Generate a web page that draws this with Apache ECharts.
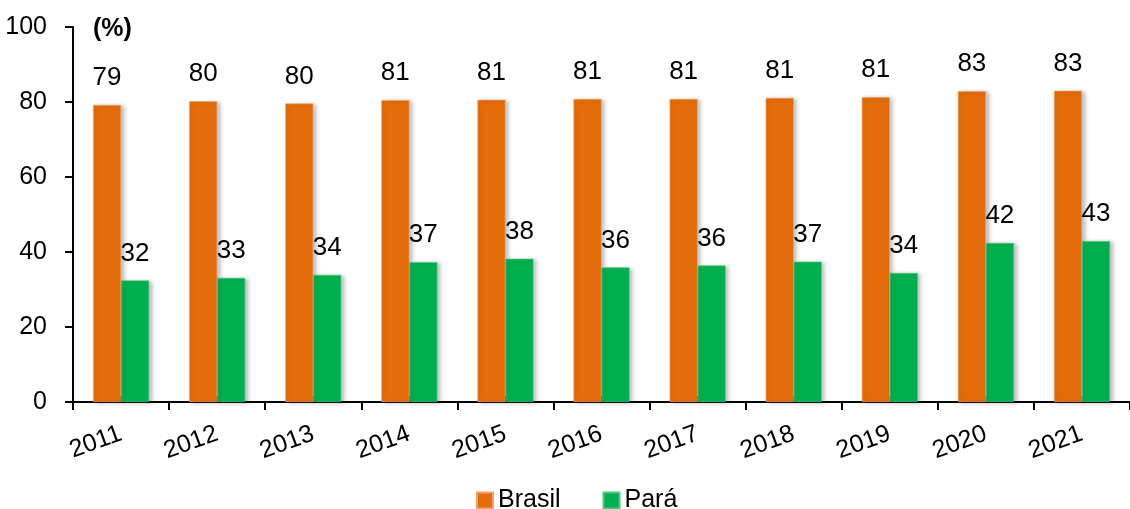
<!DOCTYPE html>
<html>
<head>
<meta charset="utf-8">
<script src="https://cdn.jsdelivr.net/npm/echarts@6/dist/echarts.min.js"></script>
<style>
html,body{margin:0;padding:0;background:#fff;}
#chart{width:1130px;height:509px;}
</style>
</head>
<body>
<div id="chart"></div>
<script>
var categories = ['2011','2012','2013','2014','2015','2016','2017','2018','2019','2020','2021'];
var brasil = [79.2, 80.2, 79.6, 80.5, 80.6, 80.8, 80.8, 81.1, 81.3, 82.9, 83.0];
var para = [32.4, 33.1, 33.9, 37.3, 38.2, 35.9, 36.4, 37.4, 34.4, 42.4, 42.9];
var seriesNames = ['Brasil', 'Pará'];
var yTicks = {min: 0, max: 100, interval: 20};
var unitLabel = '(%)';

var FONT = "'Liberation Sans Narrow', 'Arial Narrow', 'Liberation Sans', Arial, sans-serif";
var chart = echarts.init(document.getElementById('chart'), null, {renderer: 'canvas'});
var labelCfg = {
  show: true, position: 'top', distance: 14,
  color: '#000', fontSize: 26, fontFamily: FONT,
  formatter: function (p) { return Math.round(p.value); }
};
chart.setOption({
  animation: false,
  backgroundColor: '#fff',
  graphic: [{
    type: 'text', left: 93, top: 17,
    style: {text: unitLabel, font: "bold 25px " + FONT, fill: '#000'}
  }],
  legend: {
    data: seriesNames, left: 471, top: 483,
    itemWidth: 16, itemHeight: 16, itemGap: 42,
    icon: 'rect',
    textStyle: {fontSize: 25, fontFamily: FONT, color: '#000'}
  },
  grid: {left: 73, top: 27, width: 1061, height: 375, containLabel: false},
  xAxis: [{
    type: 'category', data: categories, position: 'bottom', offset: 0,
    boundaryGap: true,
    axisLine: {show: true, lineStyle: {color: '#000', width: 2}},
    axisTick: {show: true, inside: false, length: 8, alignWithLabel: false, lineStyle: {color: '#000', width: 2}},
    axisLabel: {rotate: 20, margin: 31, fontSize: 25, fontFamily: FONT, color: '#000', interval: 0}
  }, {
    type: 'category', data: categories, position: 'bottom', offset: 0,
    boundaryGap: true,
    axisLine: {show: false},
    axisTick: {show: true, inside: true, length: 6, alignWithLabel: true, lineStyle: {color: '#000', width: 2}},
    axisLabel: {show: false}
  }],
  yAxis: {
    type: 'value', min: yTicks.min, max: yTicks.max, interval: yTicks.interval,
    splitLine: {show: false},
    axisLine: {show: true, lineStyle: {color: '#000', width: 2}},
    axisTick: {show: true, inside: false, length: 8, lineStyle: {color: '#000', width: 2}},
    axisLabel: {margin: 26, fontSize: 25, fontFamily: FONT, color: '#000'}
  },
  series: [{
    name: seriesNames[0], type: 'bar', data: brasil, xAxisIndex: 0,
    barWidth: 28, barGap: '0%',
    itemStyle: {color: '#E46C0A', borderColor: '#F2A36A', borderWidth: 0.6,
      shadowColor: 'rgba(0,0,0,0.25)', shadowBlur: 4, shadowOffsetX: 3, shadowOffsetY: 1},
    label: labelCfg
  }, {
    name: seriesNames[1], type: 'bar', data: para, xAxisIndex: 0,
    barWidth: 28, barGap: '0%',
    itemStyle: {color: '#00B050', borderColor: '#4CC97F', borderWidth: 0.6,
      shadowColor: 'rgba(0,0,0,0.25)', shadowBlur: 4, shadowOffsetX: 3, shadowOffsetY: 1},
    label: labelCfg
  }]
});
</script>
</body>
</html>
